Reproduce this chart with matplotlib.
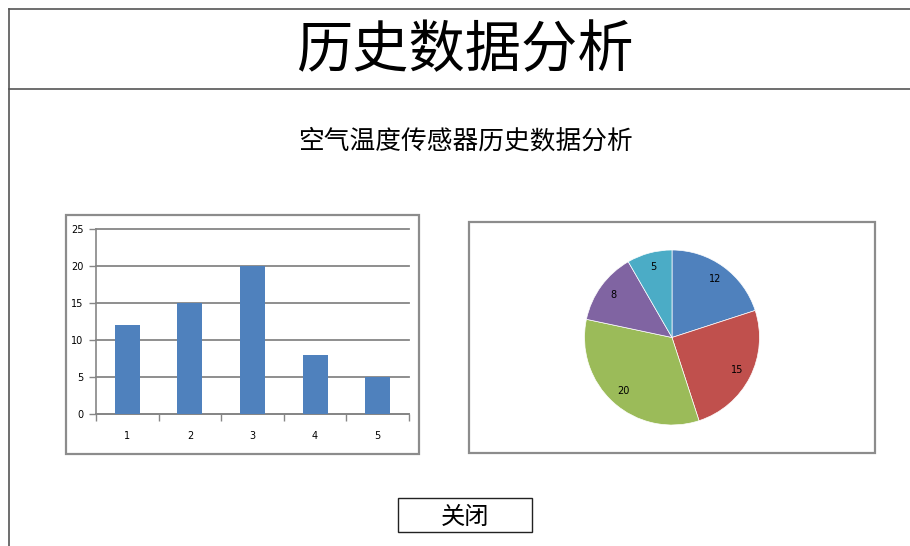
import matplotlib
matplotlib.use("Agg")
import matplotlib.pyplot as plt
from matplotlib.patches import Rectangle
from matplotlib.lines import Line2D

plt.rcParams['font.family'] = ['Noto Sans CJK SC', 'DejaVu Sans']

title = "历史数据分析"
subtitle = "空气温度传感器历史数据分析"
button_text = "关闭"
categories = ["1", "2", "3", "4", "5"]
values = [12, 15, 20, 8, 5]
y_ticks = [0, 5, 10, 15, 20, 25]
pie_colors = ["#4F81BD", "#C0504D", "#9BBB59", "#8064A2", "#4BACC6"]
bar_color = "#4F81BD"

W, H = 910, 546
fig = plt.figure(figsize=(W / 100, H / 100), dpi=100)
fig.patch.set_facecolor("white")


def fx(x):
    return x / W


def fy(y):
    return 1 - y / H


def rect_px(x0, y0, x1, y1, ec="#7f7f7f", lw=1.5):
    fig.patches.append(Rectangle((fx(x0), fy(y1)), fx(x1 - x0), (y1 - y0) / H,
                                 transform=fig.transFigure, fill=False,
                                 edgecolor=ec, linewidth=lw))


def line_px(x0, y0, x1, y1, c="#555555", lw=1.2):
    fig.lines.append(Line2D([fx(x0), fx(x1)], [fy(y0), fy(y1)],
                            transform=fig.transFigure, color=c, linewidth=lw))


# outer frame
line_px(8.5, 8.5, 910, 8.5)
line_px(8.5, 8.5, 8.5, 546)
line_px(8.5, 88.5, 910, 88.5)

fig.text(fx(465), fy(51), title, ha="center", va="center", fontsize=40.5,
         fontweight="light", color="black")
fig.text(fx(465), fy(142), subtitle, ha="center", va="center", fontsize=18.5,
         fontweight="light", color="black")

# chart boxes
rect_px(66, 215, 419, 454, ec="#8c8c8c", lw=1.6)
rect_px(469, 222, 875, 453, ec="#8c8c8c", lw=1.6)

# bar chart
ax = fig.add_axes([fx(96), fy(414), fx(409 - 96), (414 - 229) / H])
x = list(range(len(categories)))
ax.bar(x, values, width=0.4, color=bar_color, zorder=3)
ax.set_xlim(-0.5, len(categories) - 0.5)
ax.set_ylim(0, 25)
ax.set_yticks(y_ticks)
ax.set_yticklabels([str(v) for v in y_ticks], fontsize=7, family="DejaVu Sans")
ax.set_xticks(x)
ax.set_xticklabels(categories, fontsize=7, family="DejaVu Sans")
ax.tick_params(axis="x", which="major", length=0, pad=12)
ax.set_xticks([i + 0.5 for i in range(-1, len(categories))], minor=True)
ax.tick_params(axis="x", which="minor", length=5, width=1, color="#868686", direction="out")
ax.tick_params(axis="y", length=5, width=1, color="#868686", pad=4)
ax.yaxis.grid(True, color="#868686", linewidth=1.3, zorder=0)
for gl in ax.get_ygridlines():
    gl.set_clip_on(False)
for s in ["top", "right"]:
    ax.spines[s].set_visible(False)
for s in ["left", "bottom"]:
    ax.spines[s].set_color("#868686")
    ax.spines[s].set_linewidth(1.2)
ax.set_facecolor("white")

# pie chart
r = 87.5
cx, cy = 672, 337.5
pax = fig.add_axes([fx(cx - r), fy(cy + r), 2 * r / W, 2 * r / H])
total = sum(values)
wedges, texts, autotexts = pax.pie(
    values, colors=pie_colors, startangle=90, counterclock=False,
    autopct=lambda p: f"{round(p * total / 100)}", pctdistance=0.83,
    wedgeprops=dict(edgecolor="white", linewidth=0.5),
    textprops=dict(fontsize=7, color="black", family="DejaVu Sans"))
pax.set_xlim(-1, 1)
pax.set_ylim(-1, 1)
pax.set_aspect("equal")
pax.axis("off")

# button
rect_px(398, 498, 532, 532, ec="#222222", lw=1.0)
fig.text(fx(465), fy(517), button_text, ha="center", va="center", fontsize=17.5,
         fontweight="light", color="black")

fig.savefig("out.png", dpi=100)
